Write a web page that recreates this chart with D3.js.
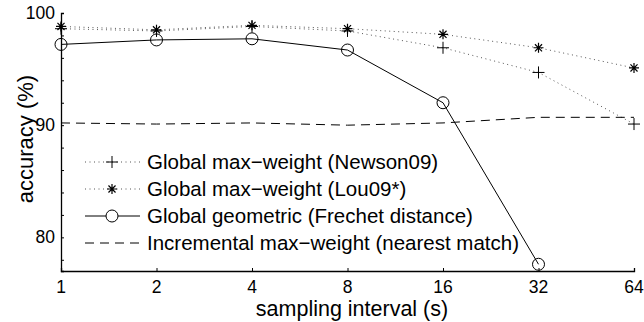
<!DOCTYPE html>
<html>
<head>
<meta charset="utf-8">
<script src="https://cdn.jsdelivr.net/npm/d3@7"></script>
<style>
  body { margin: 0; background: #fff; }
  svg { display: block; font-family: "Liberation Sans", Arial, sans-serif; }
</style>
</head>
<body>
<div id="chart"></div>
<script>
// sampling interval (s)
var intervals = [1, 2, 4, 8, 16, 32, 64];
var newson = [98.6, 98.4, 98.8, 98.4, 96.9, 94.7, 90.1];
var lou = [98.8, 98.5, 98.9, 98.6, 98.1, 96.9, 95.1];
var frechet = [97.2, 97.6, 97.7, 96.7, 92.0, 77.6];
var nearest = [90.2, 90.1, 90.2, 90.0, 90.2, 90.7, 90.7];
var yTicks = [80, 90, 100];
var yMinor = [78, 80, 82, 84, 86, 88, 90, 92, 94, 96, 98, 100];
var legendLabels = [
  "Global max\u2212weight (Newson09)",
  "Global max\u2212weight (Lou09*)",
  "Global geometric (Frechet distance)",
  "Incremental max\u2212weight (nearest match)"
];

var width = 644, height = 322;
var svg = d3.select("#chart").append("svg")
    .attr("width", width)
    .attr("height", height);

var x = d3.scaleLog().base(2).domain([1, 64]).range([61, 634]);
var y = d3.scaleLinear().domain([77, 100]).range([271, 13]);

var series = [
  {vals: newson, dash: "1,3.5", color: "#555", marker: "plus"},
  {vals: lou, dash: "1,3.5", color: "#555", marker: "star"},
  {vals: frechet, dash: null, color: "#000", marker: "circle"},
  {vals: nearest, dash: "9,6", color: "#000", marker: null}
];

function drawMarker(g, type, cx, cy) {
  if (type == "plus") {
    g.append("path").attr("d", "M" + (cx - 6) + "," + cy + "H" + (cx + 6) + "M" + cx + "," + (cy - 6) + "V" + (cy + 6))
      .attr("stroke", "#000").attr("stroke-width", 1).attr("fill", "none");
  } else if (type == "star") {
    var r = 5, d = "";
    for (var k = 0; k < 4; k++) {
      var a = k * Math.PI / 4;
      d += "M" + (cx - r * Math.cos(a)) + "," + (cy - r * Math.sin(a)) + "L" + (cx + r * Math.cos(a)) + "," + (cy + r * Math.sin(a));
    }
    g.append("path").attr("d", d).attr("stroke", "#000").attr("stroke-width", 1.2).attr("fill", "none");
  } else if (type == "circle") {
    g.append("circle").attr("cx", cx).attr("cy", cy).attr("r", 6)
      .attr("stroke", "#000").attr("stroke-width", 1).attr("fill", "none");
  }
}

// axes
var yAxis = d3.axisRight(y).tickValues(yMinor).tickSize(3).tickFormat("");
svg.append("g").attr("transform", "translate(61,0)").call(yAxis)
  .call(function(g){ g.select(".domain").attr("stroke", "#000").attr("stroke-width", 1.3); });
svg.selectAll(".ylab").data(yTicks).enter().append("text")
  .attr("x", 55).attr("y", function(d){ return y(d) + 6; })
  .attr("text-anchor", "end").style("font-size", "17.5px").text(function(d){ return d; });

var xAxis = d3.axisTop(x).tickValues(intervals).tickSize(3).tickFormat("");
svg.append("g").attr("transform", "translate(0,271)").call(xAxis)
  .call(function(g){ g.select(".domain").attr("stroke", "#000").attr("stroke-width", 1.3); });
svg.selectAll(".xlab").data(intervals).enter().append("text")
  .attr("x", function(d){ return x(d); }).attr("y", 293)
  .attr("text-anchor", "middle").style("font-size", "17.5px").text(function(d){ return d; });

svg.append("text").attr("x", 352).attr("y", 316).attr("text-anchor", "middle")
  .style("font-size", "21.5px").text("sampling interval (s)");
svg.append("text").attr("transform", "translate(33,139) rotate(-90)").attr("text-anchor", "middle")
  .style("font-size", "22px").text("accuracy (%)");

// lines
var line = d3.line().x(function(d){ return x(d[0]); }).y(function(d){ return y(d[1]); });
series.forEach(function(s){
  var pts = s.vals.map(function(v, i){ return [intervals[i], v]; });
  svg.append("path").datum(pts).attr("d", line)
    .attr("fill", "none").attr("stroke", s.color).attr("stroke-width", 1)
    .attr("stroke-dasharray", s.dash);
  if (s.marker) {
    pts.forEach(function(p){ drawMarker(svg, s.marker, x(p[0]), y(p[1])); });
  }
});

// legend
var leg = svg.append("g");
series.forEach(function(s, i){
  var ly = 162 + i * 27;
  leg.append("line").attr("x1", 85).attr("x2", 140).attr("y1", ly).attr("y2", ly)
    .attr("stroke", s.color).attr("stroke-width", 1).attr("stroke-dasharray", s.dash);
  if (s.marker) {
    if (s.marker == "circle") {
      leg.append("circle").attr("cx", 112).attr("cy", ly).attr("r", 6).attr("fill", "#fff");
    }
    drawMarker(leg, s.marker, 112, ly);
  }
  leg.append("text").attr("x", 147).attr("y", ly + 7).style("font-size", "20.5px").text(legendLabels[i]);
});
</script>
</body>
</html>
